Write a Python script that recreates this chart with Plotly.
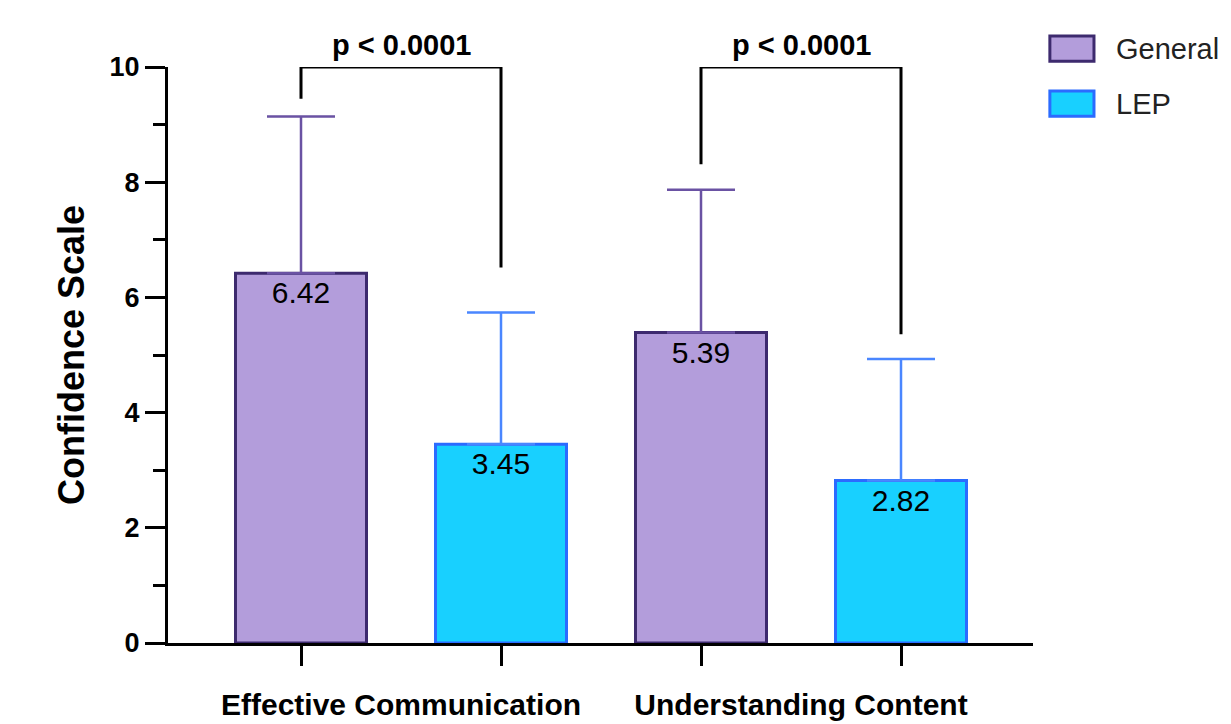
import plotly.graph_objects as go

# ---- data ----
categories = ["Effective Communication", "Understanding Content"]
groups = ["General", "LEP"]
general_means = [6.42, 5.39]
lep_means = [3.45, 2.82]
general_sd = [2.72, 2.48]
lep_sd = [2.29, 2.11]
p_labels = ["p < 0.0001", "p < 0.0001"]
bracket_left_y = [9.45, 8.31]
bracket_right_y = [6.52, 5.36]
bracket_top_y = [10.0, 10.0]
y_ticks = [0, 2, 4, 6, 8, 10]

# ---- styles ----
FONT = "Liberation Sans, Arial, Helvetica, sans-serif"
gen_fill, gen_line, gen_err = "#B39DDB", "#3D2A6E", "#6A52A3"
lep_fill, lep_line, lep_err = "#18D0FF", "#2B6BFF", "#4A86FF"

gen_x = [2 * i for i in range(len(categories))]
lep_x = [2 * i + 1 for i in range(len(categories))]
BAR_W = 0.655

fig = go.Figure()

fig.add_trace(go.Bar(
    name=groups[0], x=gen_x, y=general_means, width=BAR_W,
    marker=dict(color=gen_fill, line=dict(color=gen_line, width=3)),
    error_y=dict(type="data", symmetric=False, array=general_sd,
                 arrayminus=[0] * len(general_sd), color=gen_err,
                 thickness=2.5, width=34),
    texttemplate="%{y:.2f}", textposition="inside", insidetextanchor="end",
    textfont=dict(size=30, color="black", family=FONT),
    showlegend=False,
))
fig.add_trace(go.Bar(
    name=groups[1], x=lep_x, y=lep_means, width=BAR_W,
    marker=dict(color=lep_fill, line=dict(color=lep_line, width=3)),
    error_y=dict(type="data", symmetric=False, array=lep_sd,
                 arrayminus=[0] * len(lep_sd), color=lep_err,
                 thickness=2.5, width=34),
    texttemplate="%{y:.2f}", textposition="inside", insidetextanchor="end",
    textfont=dict(size=30, color="black", family=FONT),
    showlegend=False,
))

# significance brackets
annotations = []
for i in range(len(categories)):
    a, b = gen_x[i], lep_x[i]
    fig.add_trace(go.Scatter(
        x=[a, a, b, b],
        y=[bracket_left_y[i], bracket_top_y[i], bracket_top_y[i], bracket_right_y[i]],
        mode="lines", line=dict(color="black", width=3),
        cliponaxis=False, showlegend=False, hoverinfo="skip",
    ))
    annotations.append(dict(
        x=(a + b) / 2, y=bracket_top_y[i], xref="x", yref="y",
        text=p_labels[i], showarrow=False, yanchor="bottom", yshift=4,
        font=dict(size=29, family=FONT, color="black", weight="bold"),
    ))

# manual legend (large swatches as in reference)
legend_fills = [gen_fill, lep_fill]
legend_lines = [gen_line, lep_line]
shapes = []
for k, g in enumerate(groups):
    yc = 1.032 - k * 0.0955
    shapes.append(dict(type="rect", xref="paper", yref="paper",
                       x0=1.0195, x1=1.0705, y0=yc - 0.022, y1=yc + 0.022,
                       fillcolor=legend_fills[k],
                       line=dict(color=legend_lines[k], width=3)))
    annotations.append(dict(x=1.094, y=yc, xref="paper", yref="paper",
                            text=g, showarrow=False, xanchor="left",
                            yanchor="middle",
                            font=dict(size=29, family=FONT, color="#222")))

# page body has an 8px margin: size/margins compensate for it
fig.update_layout(
    width=1223, height=716,
    margin=dict(l=160, r=198, t=59, b=81, autoexpand=False),
    paper_bgcolor="white", plot_bgcolor="white",
    barmode="overlay",
    font=dict(family=FONT, color="black"),
    shapes=shapes, annotations=annotations,
    showlegend=False,
)
fig.update_xaxes(
    range=[-0.665, 3.66], showgrid=False, zeroline=False, automargin=False,
    showline=True, linecolor="black", linewidth=3,
    tickvals=[2 * i + 0.5 for i in range(len(categories))],
    ticktext=categories, ticks="",
    tickfont=dict(size=30, family=FONT, color="black", weight="bold"),
    ticklabelstandoff=33,
    minor=dict(ticks="outside", ticklen=20, tickwidth=3, tickcolor="black",
               dtick=1, tick0=0),
)
fig.update_yaxes(
    range=[0, 10], showgrid=False, zeroline=False, automargin=False,
    showline=True, linecolor="black", linewidth=3,
    tickvals=y_ticks, ticks="outside", ticklen=20, tickwidth=3, tickcolor="black",
    tickfont=dict(size=27, family=FONT, color="black", weight="bold"),
    minor=dict(ticks="outside", ticklen=12, tickwidth=3, tickcolor="black",
               dtick=1, tick0=0, showgrid=False),
    title=dict(text="Confidence Scale", standoff=14,
               font=dict(size=36, family=FONT, color="black", weight="bold")),
)

fig.write_html("out.html")
